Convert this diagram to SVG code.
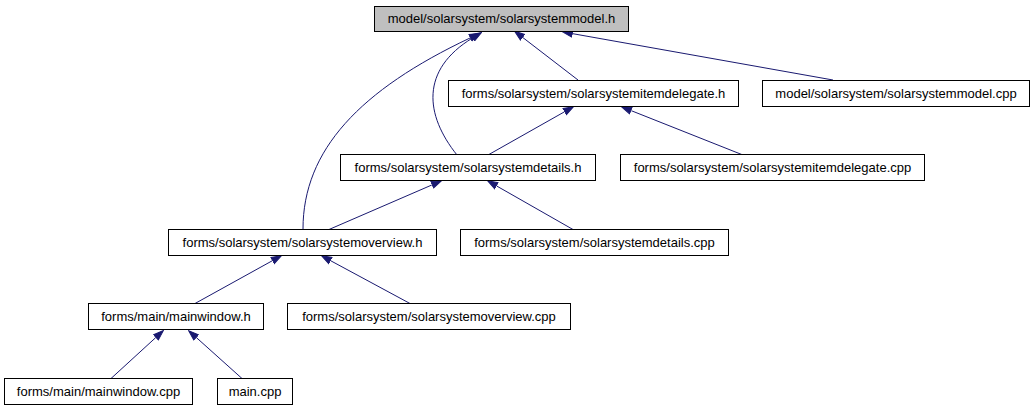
<svg xmlns="http://www.w3.org/2000/svg" width="1035" height="411" viewBox="0 0 1035 411">
<style>
.node rect { fill: #ffffff; stroke: #000000; stroke-width: 1; }
.node.root rect { fill: #bfbfbf; }
.node text { font-family: "Liberation Sans", Arial, Helvetica, sans-serif; font-size: 13px; fill: #000000; text-anchor: middle; }
.edge { fill: none; stroke: #191970; stroke-width: 1; marker-end: url(#arr); }
</style>
<defs>
<marker id="arr" markerUnits="userSpaceOnUse" markerWidth="11" markerHeight="9" viewBox="0 0 11 9" refX="0" refY="4.5" orient="auto">
<path d="M0.5,1 L10.5,4.5 L0.5,8 z" fill="#191970" stroke="#191970" stroke-width="1"/>
</marker>
</defs>
<rect width="1035" height="411" fill="#ffffff"/>
<g id="edges">
<path class="edge" d="M578,80 L522.9,37.6"/>
<path class="edge" d="M833,80 L572.8,33.7"/>
<path class="edge" d="M457,155 C425,115 420,70 472.5,38"/>
<path class="edge" d="M303,229 C303,150 360,90 470,38"/>
<path class="edge" d="M488,155 L564.3,111.9"/>
<path class="edge" d="M743,155 L631.3,110.7"/>
<path class="edge" d="M329,229.5 L431.8,185"/>
<path class="edge" d="M573,229.5 L496.7,186"/>
<path class="edge" d="M195,303.5 L272.2,260.8"/>
<path class="edge" d="M410,303.5 L330.8,260.8"/>
<path class="edge" d="M111,378.5 L155.6,337.7"/>
<path class="edge" d="M242,378.5 L196.5,337.7"/>
</g>
<g id="node1" class="node root">
<rect x="374.5" y="6.5" width="254" height="25"/>
<text x="501.5" y="22.8">model/solarsystem/solarsystemmodel.h</text>
</g>
<g id="node2" class="node">
<rect x="448.5" y="80.5" width="290" height="26"/>
<text x="593.5" y="97.8">forms/solarsystem/solarsystemitemdelegate.h</text>
</g>
<g id="node3" class="node">
<rect x="762.5" y="80.5" width="267" height="26"/>
<text x="896" y="97.8">model/solarsystem/solarsystemmodel.cpp</text>
</g>
<g id="node4" class="node">
<rect x="340.5" y="154.5" width="255" height="26"/>
<text x="468" y="171.8">forms/solarsystem/solarsystemdetails.h</text>
</g>
<g id="node5" class="node">
<rect x="620.5" y="154.5" width="304" height="26"/>
<text x="772.5" y="171.8">forms/solarsystem/solarsystemitemdelegate.cpp</text>
</g>
<g id="node6" class="node">
<rect x="168.5" y="229.5" width="268" height="26"/>
<text x="302.5" y="246.8">forms/solarsystem/solarsystemoverview.h</text>
</g>
<g id="node7" class="node">
<rect x="460.5" y="229.5" width="268" height="26"/>
<text x="594.5" y="246.8">forms/solarsystem/solarsystemdetails.cpp</text>
</g>
<g id="node8" class="node">
<rect x="88.5" y="303.5" width="175" height="26"/>
<text x="176" y="320.8">forms/main/mainwindow.h</text>
</g>
<g id="node9" class="node">
<rect x="287.5" y="303.5" width="283" height="26"/>
<text x="429" y="320.8">forms/solarsystem/solarsystemoverview.cpp</text>
</g>
<g id="node10" class="node">
<rect x="4.5" y="378.5" width="188" height="26"/>
<text x="98.5" y="395.8">forms/main/mainwindow.cpp</text>
</g>
<g id="node11" class="node">
<rect x="217.5" y="378.5" width="75" height="26"/>
<text x="255" y="395.8">main.cpp</text>
</g>
</svg>
